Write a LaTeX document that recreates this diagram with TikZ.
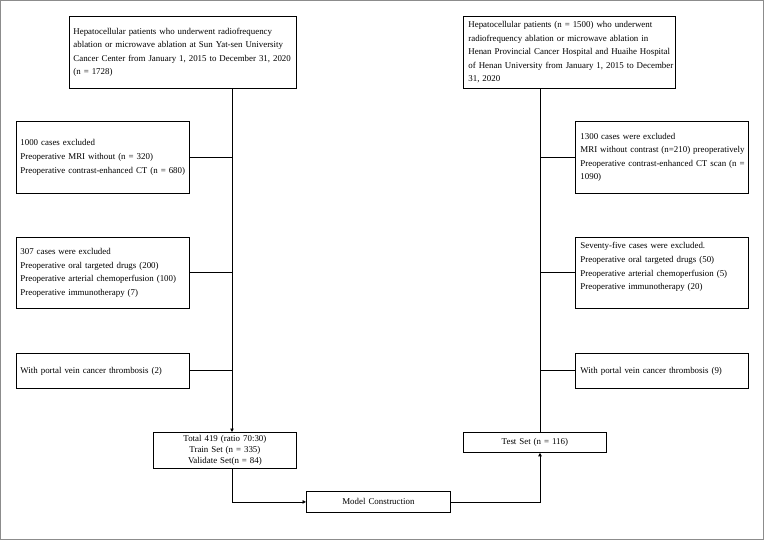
\documentclass[tikz,border=0pt]{standalone}
\usepackage{fontspec}
\setmainfont{Liberation Serif}
\usetikzlibrary{arrows.meta}
\newcommand{\Lx}[1]{\mbox{#1}}
\begin{document}
\begin{tikzpicture}[x=1pt,y=-1pt,
  box/.style={draw=black, line width=0.8pt, inner xsep=4pt, inner ysep=0pt,
    anchor=north west, align=left, font=\fontsize{8.9}{13.6}\selectfont},
  cbox/.style={draw=black, line width=0.8pt, inner xsep=4pt, inner ysep=0pt,
    anchor=north west, align=center, font=\fontsize{8.9}{10.7}\selectfont},
  link/.style={draw=black, line width=0.8pt},
  arr/.style={link, -{Triangle[length=3.5pt,width=3.5pt]}}]
\useasboundingbox (0,0) rectangle (764,540);
\draw[black!45, line width=1pt] (0.8,0.8) rectangle (763,539);

% left column
\node[box, text width=219pt, minimum height=72pt] (l1) at (69,16)
  {\Lx{Hepatocellular patients who underwent radiofrequency}\\
   \Lx{ablation or microwave ablation at Sun Yat-sen University}\\
   \Lx{Cancer Center from January 1, 2015 to December 31, 2020}\\
   \Lx{(n = 1728)}};
\node[box, text width=165pt, minimum height=72pt] (l2) at (16,121)
  {\Lx{1000 cases excluded}\\
   \Lx{Preoperative MRI without (n = 320)}\\
   \Lx{Preoperative contrast-enhanced CT (n = 680)}};
\node[box, text width=165pt, minimum height=71pt] (l3) at (16,237)
  {\Lx{307 cases were excluded}\\
   \Lx{Preoperative oral targeted drugs (200)}\\
   \Lx{Preoperative arterial chemoperfusion (100)}\\
   \Lx{Preoperative immunotherapy (7)}};
\node[box, text width=165pt, minimum height=35pt] (l4) at (16,353)
  {\Lx{With portal vein cancer thrombosis (2)}};
\node[cbox, text width=135pt, minimum height=36pt] (tot) at (153,432)
  {Total 419 (ratio 70:30)\\ Train Set (n = 335)\\ Validate Set(n = 84)};

% bottom middle
\node[cbox, text width=136pt, minimum height=21pt] (mod) at (306,491)
  {Model Construction};

% right column
\node[box, inner xsep=5pt, text width=202pt, minimum height=72pt] (r1) at (463,16)
  {\Lx{Hepatocellular patients (n = 1500) who underwent}\\
   \Lx{radiofrequency ablation or microwave ablation in}\\
   \Lx{Henan Provincial Cancer Hospital and Huaihe Hospital}\\
   \Lx{of Henan University from January 1, 2015 to December}\\
   \Lx{31, 2020}};
\node[box, inner xsep=5pt, text width=163pt, minimum height=72pt] (r2) at (575,121)
  {\Lx{1300 cases were excluded}\\
   \Lx{MRI without contrast (n=210) preoperatively}\\
   \Lx{Preoperative contrast-enhanced CT scan (n =}\\
   \Lx{1090)}};
\node[box, inner xsep=5pt, text width=163pt, minimum height=71pt] (r3) at (575,237)
  {\Lx{Seventy-five cases were excluded.}\\
   \Lx{Preoperative oral targeted drugs (50)}\\
   \Lx{Preoperative arterial chemoperfusion (5)}\\
   \Lx{Preoperative immunotherapy (20)}\\ ~};
\node[box, inner xsep=5pt, text width=163pt, minimum height=35pt] (r4) at (575,353)
  {\Lx{With portal vein cancer thrombosis (9)}};
\node[cbox, text width=135pt, minimum height=20pt] (test) at (463,432)
  {Test Set (n = 116)};

% spines
\coordinate (lsp) at (232,0);
\coordinate (rsp) at (540,0);

\draw[arr] (l1.south -| lsp) -- (tot.north -| lsp);
\draw[link] (l2.east) -- (l2.east -| lsp);
\draw[link] (l3.east) -- (l3.east -| lsp);
\draw[link] (l4.east) -- (l4.east -| lsp);

\draw[link] (r1.south -| rsp) -- (test.north -| rsp);
\draw[link] (r2.west) -- (r2.west -| rsp);
\draw[link] (r3.west) -- (r3.west -| rsp);
\draw[link] (r4.west) -- (r4.west -| rsp);

\draw[arr] (tot.south -| lsp) |- (mod.west);
\draw[arr] (mod.east) -| (test.south -| rsp);
\end{tikzpicture}
\end{document}
